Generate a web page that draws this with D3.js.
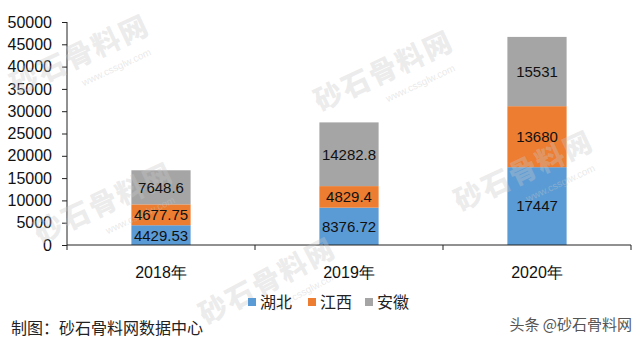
<!DOCTYPE html>
<html><head><meta charset="utf-8">
<script src="https://cdn.jsdelivr.net/npm/d3@7"></script>
<style>
html,body{margin:0;padding:0;background:#fff;}
svg{display:block;}
</style></head>
<body>
<svg id="chart" width="640" height="343"></svg>
<script>
const categories = ["2018年", "2019年", "2020年"];
const seriesNames = ["湖北", "江西", "安徽"];
const hubei = [4429.53, 8376.72, 17447];
const jiangxi = [4677.75, 4829.4, 13680];
const anhui = [7648.6, 14282.8, 15531];
const labelText = [["4429.53","8376.72","17447"],["4677.75","4829.4","13680"],["7648.6","14282.8","15531"]];
const yTicks = [0,5000,10000,15000,20000,25000,30000,35000,40000,45000,50000];
const colors = ["#5B9BD5", "#ED7D31", "#A5A5A5"];

const svg = d3.select("#chart");
const font = "'Liberation Sans', Arial, sans-serif";
const cjk = "'Noto Sans CJK SC', sans-serif";

const x = d3.scaleBand().domain(categories).range([67, 631]).paddingInner(0).paddingOuter(0);
const y = d3.scaleLinear().domain([0, 50000]).range([245, 22]);
const barW = x.bandwidth() * 0.315;

const stackData = categories.map((c,i)=>({cat:c, 湖北:hubei[i], 江西:jiangxi[i], 安徽:anhui[i]}));
const stack = d3.stack().keys(seriesNames)(stackData);

const bars = svg.append("g");
stack.forEach((layer, si)=>{
  layer.forEach((d, ci)=>{
    const bx = x(categories[ci]) + (x.bandwidth()-barW)/2;
    bars.append("rect").attr("x", bx).attr("width", barW)
      .attr("y", y(d[1])).attr("height", y(d[0]) - y(d[1]))
      .attr("fill", colors[si]);
  });
});

// y axis
const yAxis = d3.axisLeft(y).tickValues(yTicks).tickSize(5).tickPadding(10).tickFormat(d3.format("d"));
const yg = svg.append("g").attr("transform","translate(67,0)").call(yAxis);
yg.select(".domain").attr("d","M0,22V245").attr("stroke","#222");
yg.selectAll(".tick line").attr("stroke","#222");
yg.selectAll("text").attr("font-family",font).attr("font-size",16).attr("fill","#111");

// x axis
const xg = svg.append("g").attr("transform","translate(0,245)");
xg.append("line").attr("x1",67).attr("x2",631).attr("stroke","#222");
const bounds = categories.map(c=>x(c)).concat([x(categories[2])+x.bandwidth()]);
xg.selectAll("line.b").data(bounds).join("line").attr("class","b")
  .attr("x1",d=>d).attr("x2",d=>d).attr("y1",0).attr("y2",5).attr("stroke","#222");

// watermarks (faint, semi-transparent, over the plot)
const wm = svg.append("g").attr("class","watermarks").attr("pointer-events","none");
const wmPos = [[84,64,-25],[388,80,-25],[528,180,-25],[108,212,-25],[272,290,-28]];
wmPos.forEach(([cx,cy,a])=>{
  const g = wm.append("g").attr("transform",`translate(${cx},${cy}) rotate(${a})`);
  g.append("text").attr("text-anchor","middle").attr("font-family",cjk).attr("font-weight","900")
    .attr("font-size",28).attr("fill","#c8c8c8").attr("fill-opacity",0.35)
    .attr("letter-spacing",2).text("砂石骨料网");
  g.append("text").attr("x",28).attr("y",20).attr("text-anchor","middle").attr("font-family",font)
    .attr("font-size",10).attr("fill","#c8c8c8").attr("fill-opacity",0.4).text("www.cssglw.com");
});

// data labels
stack.forEach((layer, si)=>{
  layer.forEach((d, ci)=>{
    const bx = x(categories[ci]) + (x.bandwidth()-barW)/2;
    svg.append("text").attr("x", bx + barW/2).attr("y", (y(d[0])+y(d[1]))/2)
      .attr("dy","0.36em").attr("text-anchor","middle")
      .attr("font-family", font).attr("font-size", 15).attr("fill","#111")
      .text(labelText[si][ci]);
  });
});

// category labels
svg.append("g").selectAll("text").data(categories).join("text")
  .attr("x",d=>x(d)+x.bandwidth()/2).attr("y",272).attr("dy","0.36em").attr("text-anchor","middle")
  .attr("font-family",font).attr("font-size",16).attr("fill","#111").text(d=>d);

// legend
const legendX = [248, 308, 365];
const lg = svg.append("g");
seriesNames.forEach((n,i)=>{
  lg.append("rect").attr("x",legendX[i]).attr("y",298).attr("width",8).attr("height",8).attr("fill",colors[i]);
  lg.append("text").attr("x",legendX[i]+12).attr("y",302).attr("dy","0.36em")
    .attr("font-family",cjk).attr("font-size",16).attr("fill","#222").text(n);
});

// footer
svg.append("text").attr("x",11).attr("y",328).attr("dy","0.36em").attr("font-family",cjk)
  .attr("font-size",16).attr("fill","#222").text("制图：砂石骨料网数据中心");
svg.append("text").attr("x",632).attr("y",325).attr("dy","0.36em").attr("text-anchor","end").attr("font-family",cjk)
  .attr("font-size",15).attr("fill","#555").text("头条 @砂石骨料网");
</script>
</body></html>
